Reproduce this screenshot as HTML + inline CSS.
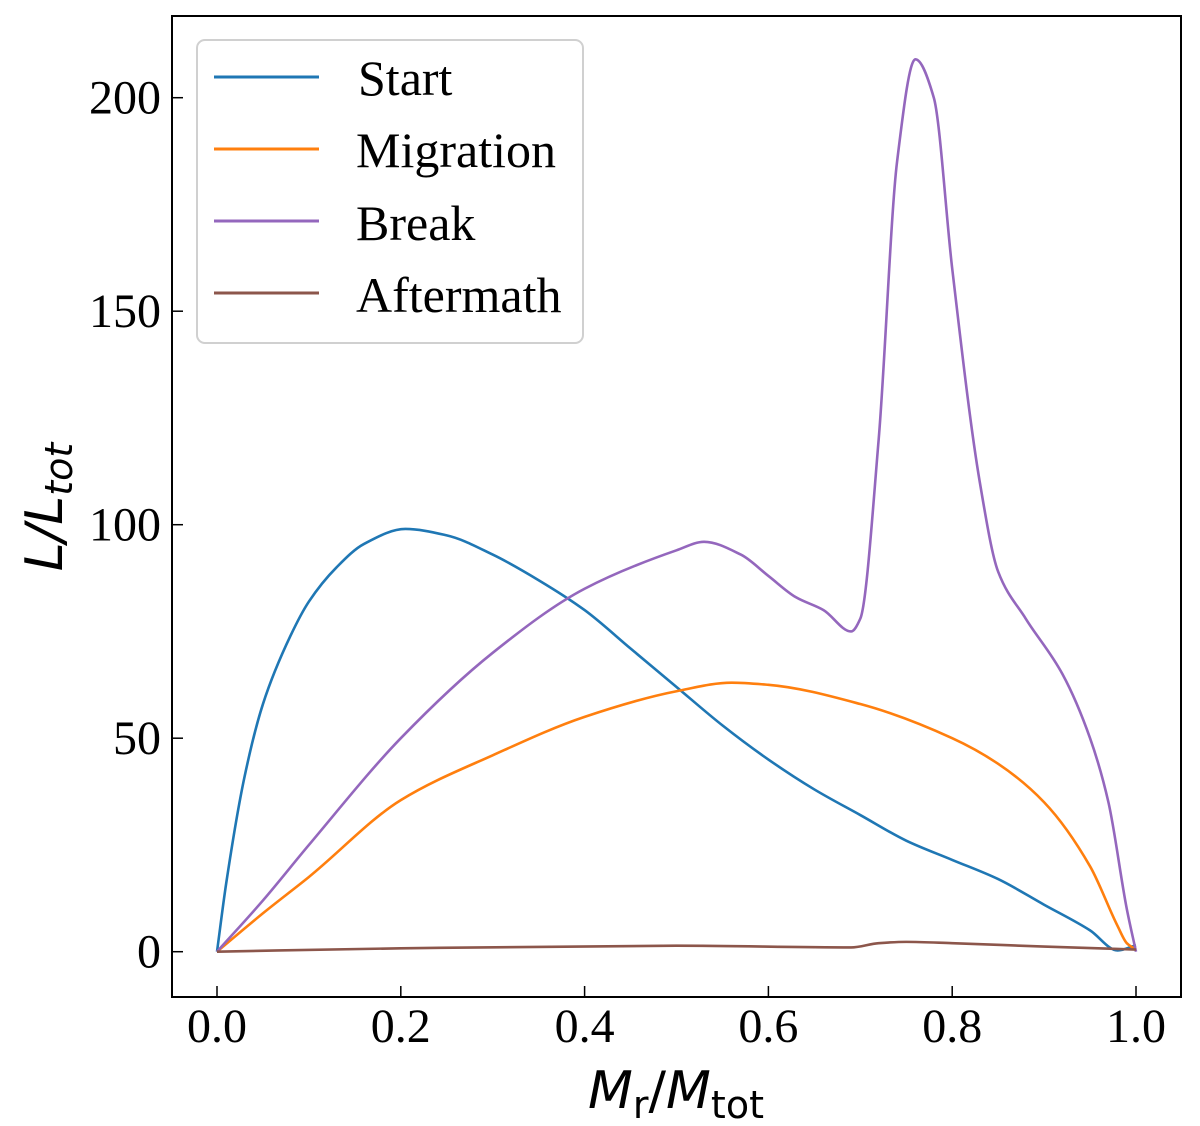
<!DOCTYPE html>
<html><head><meta charset="utf-8"><style>
body{margin:0;background:#fff}
svg{display:block}
.tick{font-family:"Liberation Serif",serif;font-size:48px;fill:#000}
.leg{font-family:"Liberation Serif",serif;font-size:50px;fill:#000}
.ax{font-family:"DejaVu Sans",sans-serif;font-size:52px;fill:#000}
</style></head><body>
<svg id="chart" width="1200" height="1126" viewBox="0 0 1200 1126">
<rect x="172" y="16" width="1009" height="981" fill="none" stroke="#000" stroke-width="2"/>
<g id="ticks"></g>
<g id="lines"></g>
<g>
<rect x="197" y="40" width="386" height="303" rx="8" fill="#fff" fill-opacity="0.8" stroke="#d0d0d0" stroke-width="2"/>
<line x1="214" y1="77" x2="319" y2="77" stroke="#1f77b4" stroke-width="3"/>
<text class="leg" x="358" y="95">Start</text>
<line x1="214" y1="149" x2="319" y2="149" stroke="#ff7f0e" stroke-width="3"/>
<text class="leg" x="356" y="167">Migration</text>
<line x1="214" y1="221" x2="319" y2="221" stroke="#9467bd" stroke-width="3"/>
<text class="leg" x="356" y="240">Break</text>
<line x1="214" y1="293" x2="319" y2="293" stroke="#8c564b" stroke-width="3"/>
<text class="leg" x="356" y="312">Aftermath</text>
</g>
<text class="ax" x="676" y="1108" text-anchor="middle"><tspan font-style="italic">M</tspan><tspan font-size="38" dy="10">r</tspan><tspan dy="-10">/</tspan><tspan font-style="italic">M</tspan><tspan font-size="38" dy="10">tot</tspan></text>
<text class="ax" transform="translate(62,507) rotate(-90)" text-anchor="middle" font-style="italic">L/L<tspan font-size="38" dy="10">tot</tspan></text>
</svg>
<script>
const xTicks=[0,0.2,0.4,0.6,0.8,1.0];
const xTickLabels=["0.0","0.2","0.4","0.6","0.8","1.0"];
const yTicks=[0,50,100,150,200];
const yTickLabels=["0","50","100","150","200"];
const startX=[0,0.01,0.03,0.05,0.08,0.1,0.13,0.16,0.205,0.25,0.3,0.35,0.4,0.45,0.5,0.55,0.6,0.65,0.7,0.75,0.8,0.85,0.9,0.95,0.98,1.0];
const startY=[0,16,41,58,74,82,90,95.5,99,97.5,93,87,80,71,62,53,45,38,32,26,21.5,17,11,5,0.3,1.5];
const migX=[0,0.05,0.1,0.2,0.3,0.4,0.5,0.56,0.6,0.7,0.8,0.85,0.9,0.95,0.98,0.99,1.0];
const migY=[0,9,17.5,35.5,46,55,61,63,62.5,58,50,44,35,20,6,2,0.5];
const brkX=[0,0.05,0.1,0.2,0.3,0.4,0.5,0.53,0.57,0.6,0.63,0.66,0.69,0.7,0.72,0.74,0.76,0.78,0.8,0.83,0.85,0.88,0.92,0.95,0.97,0.99,1.0];
const brkY=[0,12,25,50,70,85,94,96,93,88,83,80,75,78,120,185,209,200,160,110,89,78,65,50,35,10,0];
const aftX=[0,0.2,0.5,0.69,0.72,0.75,0.8,0.9,1.0];
const aftY=[0,0.8,1.4,1.0,2.0,2.3,2.0,1.2,0.5];
const sx=v=>217+v*919;
const sy=v=>951.7-v*4.27;
const NS="http://www.w3.org/2000/svg";
const tg=document.getElementById('ticks');
xTicks.forEach((t,i)=>{
 const l=document.createElementNS(NS,'line');
 l.setAttribute('x1',sx(t));l.setAttribute('x2',sx(t));l.setAttribute('y1',997);l.setAttribute('y2',986);
 l.setAttribute('stroke','#000');l.setAttribute('stroke-width','1.5');
 
 
 tg.appendChild(l);
 const tx=document.createElementNS(NS,'text');
 tx.setAttribute('x',sx(t));tx.setAttribute('y',1042);tx.setAttribute('text-anchor','middle');tx.setAttribute('class','tick');
 tx.textContent=xTickLabels[i];
 
 
 tg.appendChild(tx);
});
yTicks.forEach((t,i)=>{
 const l=document.createElementNS(NS,'line');
 l.setAttribute('x1',172);l.setAttribute('x2',183);l.setAttribute('y1',sy(t));l.setAttribute('y2',sy(t));
 l.setAttribute('stroke','#000');l.setAttribute('stroke-width','1.5');
 
 
 tg.appendChild(l);
 const tx=document.createElementNS(NS,'text');
 tx.setAttribute('x',161);tx.setAttribute('y',sy(t)+16);tx.setAttribute('text-anchor','end');tx.setAttribute('class','tick');
 tx.textContent=yTickLabels[i];
 
 
 tg.appendChild(tx);
});
function pathFor(xs,ys){
 const n=xs.length,h=[],d=[],m=[];
 for(let i=0;i<n-1;i++){h[i]=xs[i+1]-xs[i];d[i]=(ys[i+1]-ys[i])/h[i];}
 m[0]=d[0];m[n-1]=d[n-2];
 for(let i=1;i<n-1;i++){
  if(d[i-1]*d[i]<=0)m[i]=0;
  else{const w1=2*h[i]+h[i-1],w2=h[i]+2*h[i-1];m[i]=(w1+w2)/(w1/d[i-1]+w2/d[i]);}
 }
 let s='M'+sx(xs[0])+','+sy(ys[0]);
 for(let i=0;i<n-1;i++){
  const x1=xs[i]+h[i]/3,y1=ys[i]+m[i]*h[i]/3,x2=xs[i+1]-h[i]/3,y2=ys[i+1]-m[i+1]*h[i]/3;
  s+=' C'+sx(x1)+','+sy(y1)+' '+sx(x2)+','+sy(y2)+' '+sx(xs[i+1])+','+sy(ys[i+1]);
 }
 return s;
}
const lg=document.getElementById('lines');
[[startX,startY,'#1f77b4','line-start'],[migX,migY,'#ff7f0e','line-migration'],[brkX,brkY,'#9467bd','line-break'],[aftX,aftY,'#8c564b','line-aftermath']].forEach(s=>{
 const pa=document.createElementNS(NS,'path');
 pa.setAttribute('d',pathFor(s[0],s[1]));
 pa.setAttribute('fill','none');pa.setAttribute('stroke',s[2]);pa.setAttribute('stroke-width','2.6');
 
 
 lg.appendChild(pa);
});
</script>
</body></html>
